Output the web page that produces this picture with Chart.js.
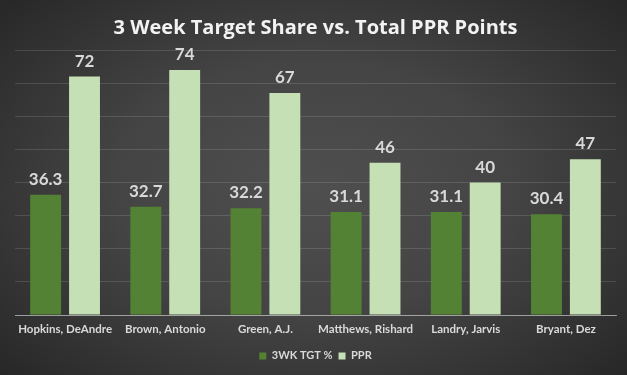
<!DOCTYPE html>
<html>
<head>
<meta charset="utf-8">
<script src="https://cdn.jsdelivr.net/npm/chart.js@4.4.0/dist/chart.umd.min.js"></script>
<style>
    html, body { margin: 0; padding: 0; }
    body {
        width: 627px;
        height: 375px;
        overflow: hidden;
        background: radial-gradient(ellipse 70% 75% at 50% 50%, #4f4f4f 0%, #444444 45%, #262626 100%);
    }
    canvas { display: block; }
</style>
</head>
<body>
<canvas id="chart" width="627" height="375"></canvas>
<script>
// --- Dados ---
const players = ['Hopkins, DeAndre', 'Brown, Antonio', 'Green, A.J.', 'Matthews, Rishard', 'Landry, Jarvis', 'Bryant, Dez'];
const targetShare = [36.3, 32.7, 32.2, 31.1, 31.1, 30.4];
const pprPoints = [72, 74, 67, 46, 40, 47];

// rótulos de valor acima das barras
const valueLabels = {
    id: 'valueLabels',
    afterDatasetsDraw(chart) {
        const ctx = chart.ctx;
        ctx.save();
        ctx.font = 'bold 17px Lato';
        ctx.fillStyle = '#d9d9d9';
        ctx.textAlign = 'center';
        ctx.textBaseline = 'alphabetic';
        chart.data.datasets.forEach((ds, i) => {
            chart.getDatasetMeta(i).data.forEach((bar, j) => {
                ctx.fillText(String(ds.data[j]), bar.x, bar.y - 10);
            });
        });
        ctx.restore();
    }
};

new Chart(document.getElementById('chart').getContext('2d'), {
    type: 'bar',
    data: {
        labels: players,
        datasets: [
            { label: '3WK TGT %', data: targetShare, backgroundColor: '#548235' },
            { label: 'PPR', data: pprPoints, backgroundColor: '#c5e0b4' }
        ]
    },
    options: {
        responsive: false,
        animation: false,
        categoryPercentage: 0.776,
        barPercentage: 0.795,
        layout: { padding: { left: 15, right: 11, top: 0, bottom: 3.6 } },
        scales: {
            y: {
                min: 0,
                max: 80,
                ticks: { display: false, stepSize: 10 },
                grid: { color: 'rgba(255,255,255,0.13)', drawTicks: false },
                border: { display: false }
            },
            x: {
                grid: { display: false, drawTicks: false },
                border: { color: 'rgba(255,255,255,0.45)' },
                ticks: {
                    color: '#d9d9d9',
                    padding: 7.8,
                    autoSkip: false,
                    maxRotation: 0,
                    font: { family: 'Lato', weight: 'bold', size: 11.5 }
                }
            }
        },
        plugins: {
            title: {
                display: true,
                text: '3 Week Target Share vs. Total PPR Points',
                color: '#f2f2f2',
                font: { family: 'Open Sans', weight: 'bold', size: 20 },
                padding: { top: 16, bottom: 10 }
            },
            legend: {
                position: 'bottom',
                labels: {
                    color: '#d9d9d9',
                    boxWidth: 7,
                    boxHeight: 7,
                    padding: 6,
                    font: { family: 'Lato', weight: 'bold', size: 11 }
                }
            },
            tooltip: { enabled: false }
        }
    },
    plugins: [valueLabels]
});
</script>
</body>
</html>
